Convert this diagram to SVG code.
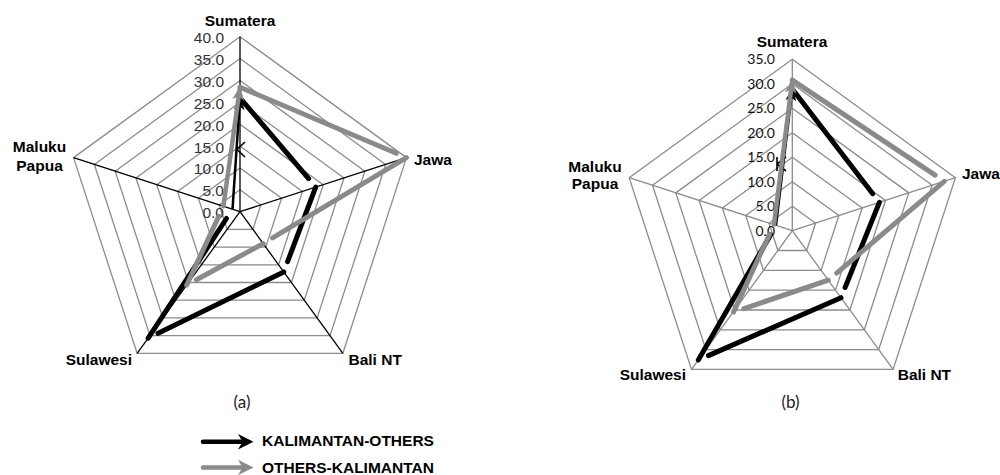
<svg xmlns="http://www.w3.org/2000/svg" width="1000" height="475" viewBox="0 0 1000 475">
<style>
.ring{fill:none;stroke:#8c8c8c;stroke-width:1.3}
.spokeA{stroke:#000;stroke-width:1.3}
.spokeB{stroke:#8c8c8c;stroke-width:1.3}
.tickA{font-family:"Liberation Sans",Arial,sans-serif;font-size:15.5px;fill:#333;text-anchor:end}
.tickB{font-family:Lato,"Open Sans",sans-serif;font-size:14px;fill:#111;text-anchor:end}
.lab{font-family:"Liberation Sans",Arial,sans-serif;font-size:15.5px;font-weight:bold;fill:#000}
.cap{font-family:Lato,"Open Sans",sans-serif;font-size:17px;fill:#222;text-anchor:middle}
.blk{fill:none;stroke:#000;stroke-width:5;stroke-linecap:round}
.gry{fill:none;stroke:#8a8a8a;stroke-width:5;stroke-linecap:round}
.leg{font-family:"Liberation Sans",Arial,sans-serif;font-size:15.5px;font-weight:bold;fill:#000}
</style>
<defs>
<marker id="ahB" markerUnits="userSpaceOnUse" viewBox="0 0 12 10" markerWidth="13" markerHeight="11" refX="11" refY="5" orient="auto"><path d="M0,0 L12,5 L0,10 L3,5 Z" fill="#000"/></marker>
<marker id="ahG" markerUnits="userSpaceOnUse" viewBox="0 0 12 10" markerWidth="14" markerHeight="12" refX="11" refY="5" orient="auto"><path d="M0,0 L12,5 L0,10 L3,5 Z" fill="#8a8a8a"/></marker>
</defs>

<g id="chart-a-grid">
<polygon class="ring" points="240,189.83 260.81,204.94 252.86,229.40 227.14,229.40 219.19,204.94"/>
<polygon class="ring" points="240,167.95 281.61,198.18 265.72,247.09 214.28,247.09 198.39,198.18"/>
<polygon class="ring" points="240,146.08 302.42,191.42 278.57,264.79 201.43,264.79 177.58,191.42"/>
<polygon class="ring" points="240,124.2 323.22,184.66 291.43,282.49 188.57,282.49 156.78,184.66"/>
<polygon class="ring" points="240,102.33 344.03,177.9 304.29,300.18 175.71,300.18 135.97,177.9"/>
<polygon class="ring" points="240,80.45 364.83,171.14 317.15,317.88 162.85,317.88 115.17,171.14"/>
<polygon class="ring" points="240,58.58 385.64,164.38 330.01,335.58 149.99,335.58 94.36,164.38"/>
<polygon class="ring" points="240,36.7 406.44,157.62 342.87,353.28 137.13,353.28 73.56,157.62"/>
<line class="spokeA" x1="240" y1="211.7" x2="240" y2="36.7"/>
<line class="spokeA" x1="240" y1="211.7" x2="406.44" y2="157.62"/>
<line class="spokeA" x1="240" y1="211.7" x2="342.87" y2="353.28"/>
<line class="spokeA" x1="240" y1="211.7" x2="137.13" y2="353.28"/>
<line class="spokeA" x1="240" y1="211.7" x2="73.56" y2="157.62"/>
</g>
<g id="chart-a-ticks">
<text class="tickA" x="224" y="218.2">0.0</text>
<text class="tickA" x="224" y="196.3">5.0</text>
<text class="tickA" x="224" y="174.45">10.0</text>
<text class="tickA" x="224" y="152.6">15.0</text>
<text class="tickA" x="224" y="130.7">20.0</text>
<text class="tickA" x="224" y="108.8">25.0</text>
<text class="tickA" x="224" y="87">30.0</text>
<text class="tickA" x="224" y="65.1">35.0</text>
<text class="tickA" x="224" y="43.2">40.0</text>
</g>
<g id="chart-a-labels">
<text class="lab" x="240" y="26" text-anchor="middle">Sumatera</text>
<text class="lab" x="414" y="164.5">Jawa</text>
<text class="lab" x="39.5" y="152.3" text-anchor="middle">Maluku</text>
<text class="lab" x="39.5" y="170.5" text-anchor="middle">Papua</text>
<text class="lab" x="132" y="365" text-anchor="end">Sulawesi</text>
<text class="lab" x="348.5" y="365">Bali NT</text>
<text class="cap" x="242" y="408">(a)</text>
</g>

<g id="chart-b-grid">
<polygon class="ring" points="792.3,206.2 815.6,223.13 806.7,250.52 777.9,250.52 769.0,223.13"/>
<polygon class="ring" points="792.3,181.7 838.9,215.56 821.1,270.34 763.5,270.34 745.7,215.56"/>
<polygon class="ring" points="792.3,157.2 862.21,207.99 835.5,290.16 749.1,290.16 722.39,207.99"/>
<polygon class="ring" points="792.3,132.7 885.51,200.42 849.91,309.98 734.69,309.98 699.09,200.42"/>
<polygon class="ring" points="792.3,108.2 908.81,192.85 864.31,329.8 720.29,329.8 675.79,192.85"/>
<polygon class="ring" points="792.3,83.7 932.11,185.28 878.71,349.62 705.89,349.62 652.49,185.28"/>
<polygon class="ring" points="792.3,59.2 955.41,177.71 893.11,369.44 691.49,369.44 629.19,177.71"/>
<line class="spokeB" x1="792.3" y1="230.7" x2="792.3" y2="59.2"/>
<line class="spokeB" x1="792.3" y1="230.7" x2="955.41" y2="177.71"/>
<line class="spokeB" x1="792.3" y1="230.7" x2="893.11" y2="369.44"/>
<line class="spokeB" x1="792.3" y1="230.7" x2="691.49" y2="369.44"/>
<line class="spokeB" x1="792.3" y1="230.7" x2="629.19" y2="177.71"/>
</g>
<g id="chart-b-ticks">
<text class="tickB" x="775" y="235.7">0.0</text>
<text class="tickB" x="775" y="211.2">5.0</text>
<text class="tickB" x="775" y="186.7">10.0</text>
<text class="tickB" x="775" y="162.2">15.0</text>
<text class="tickB" x="775" y="137.7">20.0</text>
<text class="tickB" x="775" y="113.2">25.0</text>
<text class="tickB" x="775" y="88.7">30.0</text>
<text class="tickB" x="775" y="64.2">35.0</text>
</g>
<g id="chart-b-labels">
<text class="lab" x="792" y="47.3" text-anchor="middle">Sumatera</text>
<text class="lab" x="962" y="179">Jawa</text>
<text class="lab" x="595" y="171.7" text-anchor="middle">Maluku</text>
<text class="lab" x="595" y="189.3" text-anchor="middle">Papua</text>
<text class="lab" x="686" y="380" text-anchor="end">Sulawesi</text>
<text class="lab" x="897.7" y="380">Bali NT</text>
<text class="cap" x="790.5" y="408">(b)</text>
</g>

<g id="connectors">
<!-- chart a, KALIMANTAN-OTHERS -->
<line class="blk" x1="240" y1="97.9" x2="308.6" y2="178.7"/>
<line class="blk" x1="315.7" y1="187.1" x2="287.6" y2="261.6"/>
<line class="blk" x1="283.7" y1="271.9" x2="158.1" y2="333.3"/>
<line class="blk" x1="148.2" y1="338.1" x2="226.5" y2="218.5"/>
<line x1="232.5" y1="209.3" x2="240" y2="97.9" stroke="#000" stroke-width="2.5" marker-end="url(#ahB)"/>
<polyline points="245,142 237,149.5 245,157" fill="none" stroke="#000" stroke-width="1.6"/>
<!-- chart a, OTHERS-KALIMANTAN -->
<line class="gry" x1="240" y1="87.2" x2="396.3" y2="153.3"/>
<line class="gry" x1="406.4" y1="157.6" x2="272.6" y2="237.9"/>
<line class="gry" x1="263.2" y1="243.6" x2="196.4" y2="279.8"/>
<line class="gry" x1="186.7" y1="285" x2="218.8" y2="216.3"/>
<line x1="223.4" y1="206.3" x2="240" y2="87.2" stroke="#8a8a8a" stroke-width="4.5" stroke-linecap="round" marker-end="url(#ahG)"/>
<!-- chart b, KALIMANTAN-OTHERS -->
<line class="blk" x1="792.3" y1="88.9" x2="872.7" y2="193.7"/>
<line class="blk" x1="879.4" y1="202.4" x2="845.1" y2="287.5"/>
<line class="blk" x1="841" y1="297.7" x2="708.4" y2="355.6"/>
<line class="blk" x1="698.3" y1="360" x2="770.5" y2="234.9"/>
<line x1="776" y1="225.4" x2="792.3" y2="88.9" stroke="#000" stroke-width="2.5" marker-end="url(#ahB)"/>
<path d="M777,157 L777,171 M777,164 L786,157 M777,164 L786,171" fill="none" stroke="#000" stroke-width="1.6"/>
<!-- chart b, OTHERS-KALIMANTAN -->
<line class="gry" x1="792.3" y1="80.2" x2="935.1" y2="175.2"/>
<line class="gry" x1="944.3" y1="181.3" x2="836.7" y2="273.1"/>
<line class="gry" x1="828.3" y1="280.2" x2="743.9" y2="308.6"/>
<line class="gry" x1="733.5" y1="312.1" x2="769.4" y2="234.6"/>
<line x1="774" y1="224.6" x2="792.3" y2="80.2" stroke="#8a8a8a" stroke-width="4.5" stroke-linecap="round" marker-end="url(#ahG)"/>
</g>

<g id="legend">
<line x1="203" y1="441.7" x2="242" y2="441.7" stroke="#000" stroke-width="4.5" stroke-linecap="round"/>
<polygon points="253.5,441.7 238,434 242.5,441.7 238,449.4" fill="#000"/>
<text class="leg" x="262" y="446">KALIMANTAN-OTHERS</text>
<line x1="203" y1="467.5" x2="242" y2="467.5" stroke="#8a8a8a" stroke-width="4.5" stroke-linecap="round"/>
<polygon points="253.5,467.5 238,459.8 242.5,467.5 238,475.2" fill="#8a8a8a"/>
<text class="leg" x="262" y="473">OTHERS-KALIMANTAN</text>
</g>
</svg>
